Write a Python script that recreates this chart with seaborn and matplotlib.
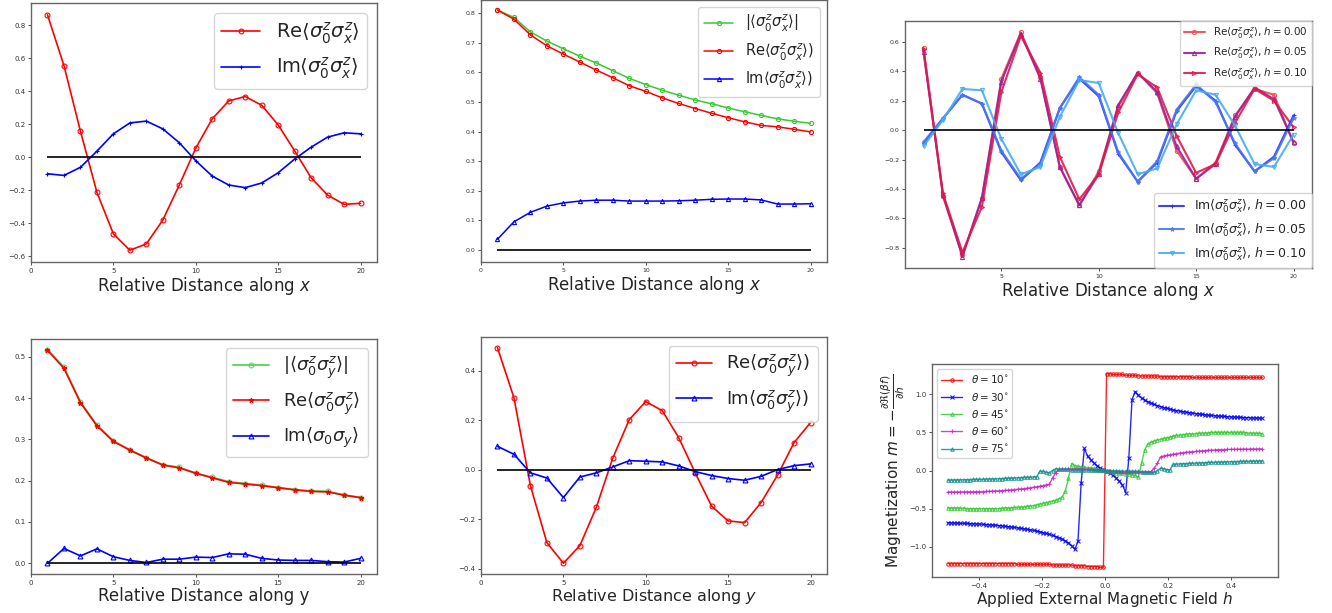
import numpy as np
import seaborn as sns
import matplotlib
matplotlib.use("Agg")
import matplotlib.pyplot as plt

# ---- data ---------------------------------------------------------------
dist = list(range(1, 21))

# top-left: <s0^z sx^z>
re_x = [0.862, 0.554, 0.157, -0.213, -0.465, -0.564, -0.526, -0.381, -0.169, 0.054,
        0.232, 0.340, 0.367, 0.314, 0.195, 0.038, -0.125, -0.230, -0.286, -0.280]
im_x = [-0.101, -0.111, -0.062, 0.036, 0.141, 0.207, 0.218, 0.171, 0.087, -0.022,
        -0.115, -0.169, -0.185, -0.157, -0.095, -0.012, 0.060, 0.121, 0.147, 0.141]

# top-middle
abs_x2 = [0.811, 0.786, 0.737, 0.706, 0.680, 0.655, 0.632, 0.606, 0.580, 0.559,
          0.540, 0.523, 0.507, 0.494, 0.480, 0.467, 0.455, 0.443, 0.435, 0.428]
re_x2 = [0.811, 0.780, 0.727, 0.690, 0.662, 0.635, 0.608, 0.582, 0.555, 0.536,
         0.514, 0.495, 0.478, 0.462, 0.447, 0.433, 0.421, 0.416, 0.408, 0.399]
im_x2 = [0.036, 0.095, 0.127, 0.148, 0.159, 0.165, 0.168, 0.168, 0.165, 0.165,
         0.165, 0.166, 0.168, 0.171, 0.172, 0.172, 0.169, 0.155, 0.155, 0.156]

# top-right: several fields h
re_h000 = [0.56, -0.45, -0.85, -0.46, 0.35, 0.665, 0.36, -0.25, -0.51, -0.28,
           0.16, 0.39, 0.25, -0.14, -0.33, -0.22, 0.10, 0.28, 0.24, -0.09]
re_h005 = [0.53, -0.44, -0.86, -0.46, 0.33, 0.655, 0.35, -0.25, -0.51, -0.30,
           0.17, 0.39, 0.26, -0.11, -0.33, -0.23, 0.09, 0.29, 0.21, -0.08]
re_h010 = [0.55, -0.43, -0.83, -0.52, 0.26, 0.64, 0.39, -0.18, -0.47, -0.30,
           0.12, 0.38, 0.29, -0.04, -0.29, -0.23, 0.05, 0.28, 0.20, 0.02]
im_h000 = [-0.09, 0.08, 0.24, 0.18, -0.15, -0.34, -0.22, 0.15, 0.35, 0.23,
           -0.16, -0.35, -0.22, 0.13, 0.30, 0.20, -0.10, -0.28, -0.18, 0.10]
im_h005 = [-0.08, 0.08, 0.24, 0.18, -0.14, -0.33, -0.23, 0.15, 0.36, 0.24,
           -0.15, -0.35, -0.21, 0.14, 0.31, 0.19, -0.09, -0.28, -0.19, 0.08]
im_h010 = [-0.11, 0.07, 0.28, 0.27, -0.06, -0.30, -0.25, 0.09, 0.34, 0.32,
           -0.02, -0.30, -0.26, 0.04, 0.27, 0.24, 0.03, -0.23, -0.25, -0.03]

# bottom-left: along y
abs_y = [0.517, 0.474, 0.390, 0.334, 0.296, 0.274, 0.255, 0.238, 0.232, 0.218,
         0.208, 0.197, 0.193, 0.189, 0.183, 0.178, 0.175, 0.174, 0.165, 0.159]
re_y = [0.516, 0.472, 0.389, 0.333, 0.295, 0.274, 0.255, 0.238, 0.231, 0.218,
        0.207, 0.196, 0.192, 0.188, 0.183, 0.178, 0.174, 0.173, 0.165, 0.159]
im_y = [0.000, 0.036, 0.018, 0.035, 0.016, 0.007, 0.002, 0.010, 0.010, 0.015,
        0.014, 0.023, 0.022, 0.012, 0.008, 0.007, 0.007, 0.004, 0.003, 0.012]

# bottom-middle
re_y2 = [0.492, 0.290, -0.065, -0.295, -0.378, -0.307, -0.152, 0.047, 0.202, 0.275,
         0.238, 0.129, -0.013, -0.148, -0.207, -0.214, -0.133, -0.022, 0.109, 0.190]
im_y2 = [0.094, 0.062, -0.013, -0.034, -0.113, -0.030, -0.013, 0.011, 0.036, 0.034,
         0.031, 0.015, -0.008, -0.024, -0.036, -0.043, -0.027, 0.000, 0.016, 0.023]

# bottom-right: magnetization vs field
field_h = np.linspace(-0.5, 0.5, 100)
m_10 = [-1.22, -1.22, -1.22, -1.22, -1.22, -1.22, -1.22, -1.22, -1.22, -1.22,
        -1.22, -1.22, -1.22, -1.22, -1.22, -1.22, -1.22, -1.22, -1.22, -1.22,
        -1.22, -1.22, -1.23, -1.23, -1.23, -1.23, -1.23, -1.23, -1.23, -1.23,
        -1.23, -1.23, -1.23, -1.24, -1.24, -1.24, -1.24, -1.24, -1.24, -1.24,
        -1.25, -1.25, -1.25, -1.25, -1.26, -1.26, -1.26, -1.26, -1.27, -1.27,
        1.27, 1.27, 1.26, 1.26, 1.26, 1.26, 1.25, 1.25, 1.25, 1.25,
        1.24, 1.24, 1.24, 1.24, 1.24, 1.24, 1.24, 1.23, 1.23, 1.23,
        1.23, 1.23, 1.23, 1.23, 1.23, 1.23, 1.23, 1.22, 1.22, 1.22,
        1.22, 1.22, 1.22, 1.22, 1.22, 1.22, 1.22, 1.22, 1.22, 1.22,
        1.22, 1.22, 1.22, 1.22, 1.22, 1.22, 1.22, 1.22, 1.22, 1.22]
m_30 = [-0.687, -0.688, -0.689, -0.690, -0.692, -0.693, -0.695, -0.697, -0.699, -0.701,
        -0.703, -0.706, -0.709, -0.712, -0.715, -0.718, -0.722, -0.726, -0.731, -0.736,
        -0.741, -0.747, -0.753, -0.759, -0.765, -0.771, -0.778, -0.786, -0.795, -0.805,
        -0.815, -0.826, -0.838, -0.851, -0.866, -0.882, -0.900, -0.922, -0.950, -0.985,
        -1.035, -0.930, -0.160, 0.290, 0.190, 0.140, 0.100, 0.060, 0.030, 0.010,
        -0.010, -0.030, -0.060, -0.100, -0.140, -0.190, -0.290, 0.160, 0.930, 1.035,
        0.985, 0.950, 0.922, 0.900, 0.882, 0.866, 0.851, 0.838, 0.826, 0.815,
        0.805, 0.795, 0.786, 0.778, 0.771, 0.765, 0.759, 0.753, 0.747, 0.741,
        0.736, 0.731, 0.726, 0.722, 0.718, 0.715, 0.712, 0.709, 0.706, 0.703,
        0.701, 0.699, 0.697, 0.695, 0.693, 0.692, 0.690, 0.689, 0.688, 0.687]
m_45 = [-0.49, -0.49, -0.49, -0.49, -0.49, -0.495, -0.50, -0.50, -0.50, -0.50,
        -0.50, -0.50, -0.50, -0.50, -0.50, -0.50, -0.50, -0.495, -0.49, -0.49,
        -0.49, -0.485, -0.48, -0.48, -0.475, -0.47, -0.465, -0.46, -0.45, -0.44,
        -0.43, -0.42, -0.41, -0.40, -0.39, -0.37, -0.35, -0.27, -0.10, 0.09,
        0.065, 0.055, 0.048, 0.044, 0.038, 0.034, 0.028, 0.020, 0.012, 0.004,
        -0.004, -0.012, -0.020, -0.028, -0.034, -0.038, -0.044, -0.048, -0.055, -0.065,
        -0.09, 0.10, 0.27, 0.35, 0.37, 0.39, 0.40, 0.41, 0.42, 0.43,
        0.44, 0.45, 0.46, 0.465, 0.47, 0.475, 0.48, 0.48, 0.485, 0.49,
        0.49, 0.49, 0.495, 0.50, 0.50, 0.50, 0.50, 0.50, 0.50, 0.50,
        0.50, 0.50, 0.50, 0.50, 0.495, 0.49, 0.49, 0.49, 0.49, 0.48]
m_60 = [-0.283, -0.283, -0.282, -0.282, -0.281, -0.281, -0.280, -0.280, -0.279, -0.278,
        -0.277, -0.276, -0.275, -0.273, -0.271, -0.269, -0.267, -0.264, -0.261, -0.258,
        -0.255, -0.250, -0.246, -0.242, -0.238, -0.233, -0.227, -0.221, -0.214, -0.207,
        -0.199, -0.190, -0.180, -0.095, -0.030, 0.015, 0.020, 0.020, 0.020, 0.020,
        0.020, 0.020, 0.020, 0.018, 0.016, 0.014, 0.012, 0.009, 0.006, 0.003,
        -0.003, -0.006, -0.009, -0.012, -0.014, -0.016, -0.018, -0.020, -0.020, -0.020,
        -0.020, -0.020, -0.020, -0.020, -0.015, 0.030, 0.095, 0.180, 0.190, 0.199,
        0.207, 0.214, 0.221, 0.227, 0.233, 0.238, 0.242, 0.246, 0.250, 0.255,
        0.258, 0.261, 0.264, 0.267, 0.269, 0.271, 0.273, 0.275, 0.276, 0.277,
        0.278, 0.279, 0.280, 0.280, 0.281, 0.281, 0.282, 0.282, 0.283, 0.283]
m_75 = [-0.126, -0.125, -0.124, -0.123, -0.122, -0.121, -0.120, -0.119, -0.118, -0.117,
        -0.116, -0.115, -0.113, -0.112, -0.110, -0.109, -0.107, -0.105, -0.103, -0.101,
        -0.099, -0.097, -0.095, -0.093, -0.091, -0.089, -0.087, -0.085, -0.082, -0.012,
        -0.010, -0.025, -0.030, 0.000, 0.025, 0.015, 0.015, 0.014, 0.014, 0.013,
        0.013, 0.012, 0.011, 0.010, 0.009, 0.008, 0.007, 0.006, 0.004, 0.002,
        -0.002, -0.004, -0.006, -0.007, -0.008, -0.009, -0.010, -0.011, -0.012, -0.013,
        -0.013, -0.014, -0.014, -0.015, -0.015, -0.025, 0.000, 0.030, 0.025, 0.010,
        0.012, 0.082, 0.085, 0.087, 0.089, 0.091, 0.093, 0.095, 0.097, 0.099,
        0.101, 0.103, 0.105, 0.107, 0.109, 0.110, 0.112, 0.113, 0.115, 0.116,
        0.117, 0.118, 0.119, 0.120, 0.121, 0.122, 0.123, 0.124, 0.125, 0.126]

# ---- style --------------------------------------------------------------
sns.set_theme(style="white")
plt.rcParams["font.family"] = ["DejaVu Sans"]
plt.rcParams["mathtext.fontset"] = "dejavusans"
plt.rcParams["axes.edgecolor"] = "#666666"
plt.rcParams["axes.linewidth"] = 1.0

W, H = 1332, 613
fig = plt.figure(figsize=(W / 100, H / 100), dpi=100)


def make_axes(left, top, right, bottom, tick_size=5):
    # pixel box -> figure fraction
    ax = fig.add_axes([left / W, 1 - bottom / H, (right - left) / W, (bottom - top) / H])
    ax.tick_params(bottom=True, left=True, length=2, width=0.6, labelsize=tick_size,
                   colors="#333333", pad=2)
    return ax


def draw(ax, x, y, color, marker, label, ms=3.5, lw=1.2, hollow=True, alpha=1.0):
    sns.lineplot(x=x, y=y, ax=ax, color=color, marker=marker, markersize=ms,
                 markerfacecolor="none" if hollow else color, markeredgecolor=color,
                 markeredgewidth=0.8, linewidth=lw, alpha=alpha, label=label,
                 legend=False)


lbl_x = r"$\langle\sigma_0^z\sigma_x^z\rangle$"
lbl_y = r"$\langle\sigma_0^z\sigma_y^z\rangle$"

# ---- top-left ------------------------------------------------------------
ax1 = make_axes(31, 3, 377, 262)
draw(ax1, dist, re_x, "red", "o", "Re" + lbl_x)
draw(ax1, dist, im_x, "blue", "+", "Im" + lbl_x)
ax1.hlines(0, 1, 20, color="black", lw=1.2)
ax1.set_xlim(0, 21)
ax1.set_xticks([0, 5, 10, 15, 20])
ax1.set_xlabel(r"Relative Distance along $x$", fontsize=12, labelpad=1)
ax1.legend(loc="upper right", fontsize=14)

# ---- top-middle ----------------------------------------------------------
ax2 = make_axes(481, 0, 827, 262, tick_size=4.5)
draw(ax2, dist, abs_x2, "#33cc33", "o", r"$|$" + lbl_x + r"$|$", ms=3, lw=1.1)
draw(ax2, dist, re_x2, "red", "o", "Re" + lbl_x + ")", ms=3, lw=1.1)
draw(ax2, dist, im_x2, "blue", "^", "Im" + lbl_x + ")", ms=3, lw=1.1)
ax2.hlines(0, 1, 20, color="black", lw=1.2)
ax2.set_xlim(0, 21)
ax2.set_ylim(-0.041, 0.845)
ax2.set_xticks([0, 5, 10, 15, 20])
ax2.set_xlabel(r"Relative Distance along $x$", fontsize=12, labelpad=1)
ax2.legend(loc="upper right", fontsize=10.5)

# ---- top-right -----------------------------------------------------------
ax3 = make_axes(905, 21, 1312, 268, tick_size=4.5)
re_series = [(re_h000, "#f04850", "o", "0.00"), (re_h005, "#9a1fa0", "^", "0.05"),
             (re_h010, "#e0184a", ">", "0.10")]
im_series = [(im_h000, "#2a2aff", "+", "0.00"), (im_h005, "#4a78f0", "*", "0.05"),
             (im_h010, "#45aaf5", "v", "0.10")]
for vals, col, mk, hv in re_series:
    draw(ax3, dist, vals, col, mk, "Re" + lbl_x + r", $h=$" + hv, ms=3, lw=1.5, alpha=0.9)
for vals, col, mk, hv in im_series:
    draw(ax3, dist, vals, col, mk, "Im" + lbl_x + r", $h=$" + hv, ms=3, lw=1.5, alpha=0.9)
ax3.hlines(0, 1, 20, color="black", lw=1.2)
ax3.set_xticks([5, 10, 15, 20])
ax3.set_xlabel(r"Relative Distance along $x$", fontsize=12, labelpad=1)
handles, labels = ax3.get_legend_handles_labels()
leg_re = ax3.legend(handles[:3], labels[:3], loc="upper right", fontsize=7.5,
                    borderaxespad=0.0)
ax3.add_artist(leg_re)
ax3.legend(handles[3:], labels[3:], loc="lower right", fontsize=9, borderaxespad=0.0)

# ---- bottom-left ---------------------------------------------------------
ax4 = make_axes(31, 339, 377, 574)
draw(ax4, dist, abs_y, "#44cc44", "o", r"$|$" + lbl_y + r"$|$", lw=1.5, alpha=0.8)
draw(ax4, dist, re_y, "red", "*", "Re" + lbl_y, ms=3.5, lw=1.2, hollow=False)
draw(ax4, dist, im_y, "blue", "^", r"Im$\langle\sigma_0\sigma_y\rangle$", lw=1.2)
ax4.hlines(0, 1, 20, color="black", lw=1.2)
ax4.set_xlim(0, 21)
ax4.set_xticks([0, 5, 10, 15, 20])
ax4.set_xlabel("Relative Distance along y", fontsize=12, labelpad=1)
ax4.legend(loc="upper right", fontsize=13)

# ---- bottom-middle -------------------------------------------------------
ax5 = make_axes(481, 337, 827, 574)
draw(ax5, dist, re_y2, "red", "o", "Re" + lbl_y + ")")
draw(ax5, dist, im_y2, "blue", "^", "Im" + lbl_y + ")")
ax5.hlines(0, 1, 20, color="black", lw=1.2)
ax5.set_xlim(0, 21)
ax5.set_xticks([0, 5, 10, 15, 20])
ax5.set_xlabel(r"Relative Distance along $y$", fontsize=11.5, labelpad=1)
ax5.legend(loc="upper right", fontsize=13)

# ---- bottom-right --------------------------------------------------------
ax6 = make_axes(932, 364, 1278, 577)
mag_series = [(m_10, "red", "o", "10"), (m_30, "blue", "x", "30"),
              (m_45, "#33cc33", "^", "45"), (m_60, "#cc22cc", "+", "60"),
              (m_75, "#138f8f", "^", "75")]
for vals, col, mk, ang in mag_series:
    draw(ax6, field_h, vals, col, mk, r"$\theta=%s^{\circ}$" % ang, ms=2.5, lw=1.0,
         alpha=0.85)
ax6.set_xlabel(r"Applied External Magnetic Field $h$", fontsize=11, labelpad=1)
ax6.set_ylabel(r"Magnetization $m=-\frac{\partial\Re(\beta f)}{\partial h}$",
               fontsize=11, labelpad=2)
ax6.legend(loc="upper left", fontsize=7.5)

fig.savefig("out.png", dpi=100)
